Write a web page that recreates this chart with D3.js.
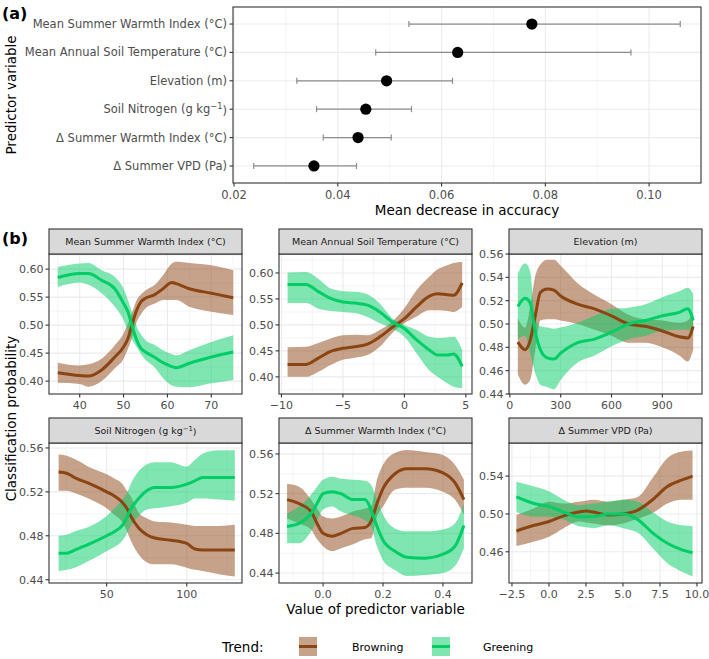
<!DOCTYPE html>
<html>
<head>
<meta charset="utf-8">
<script src="https://cdn.jsdelivr.net/npm/d3@7"></script>
<style>
  html, body { margin: 0; padding: 0; background: #fff; }
  svg { display: block; font-family: "DejaVu Sans", sans-serif; }
</style>
</head>
<body>
<svg id="chart" width="709" height="659"></svg>
<script>
// ---------------- Panel (a) data ----------------
const predictors = [
  "Mean Summer Warmth Index (°C)",
  "Mean Annual Soil Temperature (°C)",
  "Elevation (m)",
  "Soil Nitrogen (g kg^-1)",
  "Δ Summer Warmth Index (°C)",
  "Δ Summer VPD (Pa)"
];
const mda   = [0.0774, 0.0631, 0.0494, 0.0454, 0.0439, 0.0354];
const mdaLo = [0.0537, 0.0473, 0.0321, 0.0359, 0.0372, 0.0238];
const mdaHi = [0.1060, 0.0965, 0.0621, 0.0542, 0.0503, 0.0436];
const mdaTicks = [0.02, 0.04, 0.06, 0.08, 0.10];

// ---------------- Panel (b) data ----------------
const mswiX       = [35, 40, 42, 45, 48, 50, 51, 52, 53, 54, 55, 57, 59, 61, 62, 65, 70, 75];
const mswiBrown   = [0.415,0.410,0.409,0.420,0.443,0.461,0.476,0.503,0.527,0.542,0.548,0.554,0.565,0.576,0.574,0.565,0.557,0.549];
const mswiBrownLo = [0.397,0.395,0.390,0.400,0.423,0.440,0.458,0.479,0.506,0.520,0.530,0.538,0.545,0.545,0.545,0.533,0.524,0.518];
const mswiBrownHi = [0.433,0.428,0.430,0.440,0.464,0.485,0.503,0.524,0.545,0.555,0.562,0.571,0.589,0.610,0.613,0.611,0.607,0.598];
const mswiGreen   = [0.585,0.592,0.592,0.580,0.565,0.539,0.524,0.497,0.473,0.458,0.452,0.443,0.433,0.426,0.424,0.432,0.443,0.452];
const mswiGreenLo = [0.568,0.576,0.572,0.557,0.533,0.509,0.490,0.473,0.461,0.448,0.438,0.425,0.405,0.392,0.390,0.389,0.396,0.402];
const mswiGreenHi = [0.604,0.610,0.611,0.598,0.586,0.565,0.545,0.521,0.497,0.483,0.473,0.465,0.455,0.448,0.446,0.455,0.470,0.482];

const mastX       = [-9.5, -8, -7, -6, -5, -4, -3, -2, -1, 0, 1, 2, 2.7, 3.5, 4, 4.7];
const mastBrown   = [0.424,0.424,0.436,0.449,0.455,0.458,0.463,0.477,0.495,0.512,0.535,0.555,0.560,0.558,0.557,0.581];
const mastBrownLo = [0.400,0.400,0.410,0.423,0.433,0.437,0.442,0.458,0.484,0.503,0.516,0.528,0.528,0.527,0.525,0.535];
const mastBrownHi = [0.457,0.458,0.465,0.474,0.480,0.481,0.480,0.490,0.506,0.532,0.567,0.592,0.607,0.615,0.619,0.621];
const mastGreen   = [0.578,0.578,0.564,0.551,0.544,0.542,0.538,0.525,0.506,0.493,0.471,0.452,0.442,0.442,0.444,0.420];
const mastGreenLo = [0.542,0.542,0.531,0.527,0.525,0.523,0.515,0.503,0.493,0.477,0.445,0.413,0.400,0.387,0.381,0.378];
const mastGreenHi = [0.601,0.602,0.589,0.570,0.565,0.564,0.559,0.541,0.513,0.500,0.490,0.477,0.475,0.476,0.477,0.452];

const elevX       = [47, 90, 120, 150, 180, 220, 260, 300, 400, 500, 600, 700, 800, 900, 1000, 1050, 1082];
const elevBrown   = [0.4845,0.478,0.486,0.507,0.527,0.530,0.529,0.524,0.517,0.513,0.507,0.500,0.498,0.494,0.489,0.488,0.498];
const elevBrownLo = [0.457,0.448,0.452,0.478,0.503,0.504,0.504,0.503,0.500,0.495,0.490,0.484,0.484,0.480,0.473,0.468,0.478];
const elevBrownHi = [0.505,0.497,0.515,0.541,0.551,0.555,0.555,0.550,0.535,0.525,0.517,0.508,0.504,0.503,0.501,0.503,0.510];
const elevGreen   = [0.515,0.522,0.518,0.493,0.478,0.471,0.470,0.475,0.484,0.487,0.493,0.500,0.503,0.507,0.510,0.513,0.503];
const elevGreenLo = [0.487,0.490,0.475,0.458,0.448,0.446,0.444,0.452,0.467,0.473,0.481,0.487,0.490,0.494,0.495,0.495,0.490];
const elevGreenHi = [0.543,0.552,0.545,0.504,0.498,0.497,0.496,0.497,0.501,0.507,0.513,0.514,0.517,0.523,0.528,0.531,0.526];

const snX         = [20, 25, 30, 40, 50, 55, 60, 63, 65, 70, 75, 80, 90, 100, 105, 110, 120, 130];
const snBrown     = [0.538,0.537,0.533,0.527,0.520,0.516,0.510,0.504,0.498,0.487,0.481,0.478,0.476,0.473,0.468,0.467,0.467,0.467];
const snBrownLo   = [0.521,0.521,0.519,0.513,0.505,0.499,0.492,0.483,0.476,0.463,0.456,0.454,0.454,0.451,0.449,0.448,0.445,0.443];
const snBrownHi   = [0.554,0.553,0.550,0.542,0.536,0.532,0.527,0.520,0.516,0.501,0.496,0.493,0.492,0.490,0.489,0.489,0.489,0.490];
const snGreen     = [0.464,0.464,0.467,0.473,0.480,0.484,0.490,0.498,0.504,0.514,0.521,0.524,0.524,0.527,0.530,0.533,0.533,0.533];
const snGreenLo   = [0.448,0.449,0.451,0.458,0.466,0.470,0.476,0.483,0.489,0.498,0.504,0.505,0.507,0.510,0.514,0.514,0.513,0.512];
const snGreenHi   = [0.480,0.481,0.484,0.489,0.498,0.505,0.513,0.520,0.527,0.539,0.545,0.547,0.547,0.543,0.549,0.555,0.558,0.558];

const dswiX       = [-0.12, -0.08, -0.04, -0.02, 0, 0.03, 0.06, 0.1, 0.14, 0.16, 0.18, 0.2, 0.24, 0.28, 0.34, 0.4, 0.44, 0.47];
const dswiBrown   = [0.514,0.510,0.502,0.490,0.480,0.477,0.480,0.485,0.486,0.492,0.510,0.525,0.540,0.545,0.545,0.541,0.531,0.514];
const dswiBrownLo = [0.495,0.490,0.484,0.474,0.467,0.462,0.465,0.469,0.474,0.475,0.497,0.507,0.524,0.526,0.526,0.522,0.514,0.499];
const dswiBrownHi = [0.530,0.527,0.514,0.505,0.497,0.495,0.497,0.502,0.505,0.507,0.534,0.549,0.561,0.564,0.562,0.559,0.549,0.534];
const dswiGreen   = [0.487,0.490,0.500,0.510,0.520,0.522,0.520,0.514,0.514,0.504,0.487,0.473,0.462,0.456,0.455,0.459,0.467,0.488];
const dswiGreenLo = [0.470,0.470,0.482,0.493,0.504,0.507,0.502,0.498,0.493,0.487,0.467,0.453,0.443,0.437,0.438,0.440,0.447,0.465];
const dswiGreenHi = [0.500,0.507,0.519,0.527,0.534,0.537,0.535,0.534,0.533,0.529,0.514,0.499,0.485,0.482,0.482,0.484,0.490,0.510];

const vpdX        = [-2.2, -1, 0, 1, 2, 2.5, 3, 4, 5, 6, 7, 8, 9, 9.7];
const vpdBrown    = [0.482,0.488,0.492,0.498,0.502,0.503,0.502,0.499,0.500,0.504,0.515,0.529,0.536,0.540];
const vpdBrownLo  = [0.466,0.471,0.476,0.485,0.492,0.491,0.490,0.488,0.490,0.495,0.501,0.511,0.515,0.515];
const vpdBrownHi  = [0.499,0.506,0.513,0.511,0.513,0.514,0.515,0.513,0.515,0.518,0.538,0.559,0.566,0.567];
const vpdGreen    = [0.518,0.511,0.508,0.502,0.497,0.497,0.497,0.500,0.500,0.494,0.480,0.469,0.462,0.459];
const vpdGreenLo  = [0.502,0.497,0.497,0.494,0.487,0.486,0.485,0.488,0.485,0.480,0.464,0.448,0.439,0.434];
const vpdGreenHi  = [0.534,0.529,0.524,0.515,0.509,0.510,0.511,0.513,0.515,0.513,0.502,0.492,0.488,0.487];

const trends = ["Browning", "Greening"];
const trendColors = ["#8B4513", "#00CD66"];

// ---------------- Layout / styles ----------------
const svg = d3.select("#chart");
const BORDER = "#333333", GRID = "#ebebeb", TICKTXT = "#4d4d4d";

function minorOf(ticks, domain) {
  const step = ticks[1] - ticks[0];
  const m = ticks.map(t => t - step / 2).concat([ticks[ticks.length - 1] + step / 2]);
  const lo = Math.min(domain[0], domain[1]), hi = Math.max(domain[0], domain[1]);
  return m.filter(v => v >= lo - 1e-9 && v <= hi + 1e-9);
}

function labelText(sel, str) {
  // handles "^-1" superscript
  const m = str.match(/^(.*)\^(-?\d+)(.*)$/);
  if (!m) { sel.text(str); return; }
  sel.append("tspan").text(m[1]);
  sel.append("tspan").attr("dy", "-0.45em").attr("font-size", "0.72em").text(m[2].replace("-", "−"));
  sel.append("tspan").attr("dy", "0.45em").text(m[3]);
}

// ================= Panel (a) =================
const aL = 233, aR = 701, aT = 7, aB = 183;
const ax = d3.scaleLinear().domain([0.0198, 0.11]).range([aL, aR]);
const ay = d3.scalePoint().domain(predictors).range([aT, aB]).padding(0.6);
const gA = svg.append("g");
gA.append("rect").attr("x", aL).attr("y", aT).attr("width", aR - aL).attr("height", aB - aT).attr("fill", "#fff");
minorOf(mdaTicks, ax.domain()).forEach(v => {
  gA.append("line").attr("x1", ax(v)).attr("x2", ax(v)).attr("y1", aT).attr("y2", aB)
    .attr("stroke", GRID).attr("stroke-width", 0.55);
});
mdaTicks.forEach(v => {
  gA.append("line").attr("x1", ax(v)).attr("x2", ax(v)).attr("y1", aT).attr("y2", aB)
    .attr("stroke", GRID).attr("stroke-width", 1.1);
});
predictors.forEach(p => {
  gA.append("line").attr("x1", aL).attr("x2", aR).attr("y1", ay(p)).attr("y2", ay(p))
    .attr("stroke", GRID).attr("stroke-width", 1.1);
});
predictors.forEach((p, i) => {
  const y = ay(p);
  gA.append("line").attr("x1", ax(mdaLo[i])).attr("x2", ax(mdaHi[i])).attr("y1", y).attr("y2", y)
    .attr("stroke", "#8c8c8c").attr("stroke-width", 1.2);
  [mdaLo[i], mdaHi[i]].forEach(v => {
    gA.append("line").attr("x1", ax(v)).attr("x2", ax(v)).attr("y1", y - 3).attr("y2", y + 3)
      .attr("stroke", "#8c8c8c").attr("stroke-width", 1.2);
  });
  gA.append("circle").attr("cx", ax(mda[i])).attr("cy", y).attr("r", 5.6).attr("fill", "#000");
});
gA.append("rect").attr("x", aL).attr("y", aT).attr("width", aR - aL).attr("height", aB - aT)
  .attr("fill", "none").attr("stroke", BORDER).attr("stroke-width", 1.1);
// y axis
predictors.forEach(p => {
  gA.append("line").attr("x1", aL - 3.5).attr("x2", aL).attr("y1", ay(p)).attr("y2", ay(p))
    .attr("stroke", BORDER).attr("stroke-width", 1.1);
  const t = gA.append("text").attr("x", aL - 6).attr("y", ay(p) + 4).attr("text-anchor", "end")
    .attr("font-size", 11.5).attr("fill", TICKTXT);
  labelText(t, p);
});
mdaTicks.forEach(v => {
  gA.append("line").attr("x1", ax(v)).attr("x2", ax(v)).attr("y1", aB).attr("y2", aB + 3.5)
    .attr("stroke", BORDER).attr("stroke-width", 1.1);
  gA.append("text").attr("x", ax(v)).attr("y", aB + 15.5).attr("text-anchor", "middle")
    .attr("font-size", 11.5).attr("fill", TICKTXT).text(d3.format(".2f")(v));
});
gA.append("text").attr("x", (aL + aR) / 2).attr("y", aB + 32).attr("text-anchor", "middle")
  .attr("font-size", 13.5).attr("fill", "#000").text("Mean decrease in accuracy");
gA.append("text").attr("transform", `translate(16,${(aT + aB) / 2}) rotate(-90)`).attr("text-anchor", "middle")
  .attr("font-size", 13.5).attr("fill", "#000").text("Predictor variable");
svg.append("text").attr("x", 2).attr("y", 19).attr("font-size", 16).attr("font-weight", "bold").text("(a)");
svg.append("text").attr("x", 2).attr("y", 244).attr("font-size", 16).attr("font-weight", "bold").text("(b)");

// ================= Panels (b) =================
const panels = [
  { title: "Mean Summer Warmth Index (°C)", x: mswiX, b: [mswiBrown, mswiBrownLo, mswiBrownHi], g: [mswiGreen, mswiGreenLo, mswiGreenHi],
    xd: [33, 77], yd: [0.377, 0.627], xt: [40, 50, 60, 70], yt: [0.40, 0.45, 0.50, 0.55, 0.60], xf: "d", yf: ".2f" },
  { title: "Mean Annual Soil Temperature (°C)", x: mastX, b: [mastBrown, mastBrownLo, mastBrownHi], g: [mastGreen, mastGreenLo, mastGreenHi],
    xd: [-10.2, 5.5], yd: [0.367, 0.6365], xt: [-10, -5, 0, 5], yt: [0.40, 0.45, 0.50, 0.55, 0.60], xf: "d", yf: ".2f" },
  { title: "Elevation (m)", x: elevX, b: [elevBrown, elevBrownLo, elevBrownHi], g: [elevGreen, elevGreenLo, elevGreenHi],
    xd: [-5, 1134], yd: [0.44, 0.56], xt: [0, 300, 600, 900], yt: [0.44, 0.46, 0.48, 0.50, 0.52, 0.54, 0.56], xf: "d", yf: ".2f" },
  { title: "Soil Nitrogen (g kg^-1)", x: snX, b: [snBrown, snBrownLo, snBrownHi], g: [snGreen, snGreenLo, snGreenHi],
    xd: [14, 134.5], yd: [0.437, 0.5645], xt: [50, 100], yt: [0.44, 0.48, 0.52, 0.56], xf: "d", yf: ".2f" },
  { title: "Δ Summer Warmth Index (°C)", x: dswiX, b: [dswiBrown, dswiBrownLo, dswiBrownHi], g: [dswiGreen, dswiGreenLo, dswiGreenHi],
    xd: [-0.147, 0.497], yd: [0.430, 0.571], xt: [0.0, 0.2, 0.4], yt: [0.44, 0.48, 0.52, 0.56], xf: ".1f", yf: ".2f" },
  { title: "Δ Summer VPD (Pa)", x: vpdX, b: [vpdBrown, vpdBrownLo, vpdBrownHi], g: [vpdGreen, vpdGreenLo, vpdGreenHi],
    xd: [-2.7, 10.34], yd: [0.427, 0.575], xt: [-2.5, 0.0, 2.5, 5.0, 7.5, 10.0], yt: [0.46, 0.50, 0.54], xf: ".1f", yf: ".2f" }
];
const colLeft = [49, 279, 509], pW = 193;
const rowTop = [254, 443], pH = 140, stripH = 25;

panels.forEach((p, i) => {
  const L = colLeft[i % 3], T = rowTop[Math.floor(i / 3)];
  const xs = d3.scaleLinear().domain(p.xd).range([L, L + pW]);
  const ys = d3.scaleLinear().domain(p.yd).range([T + pH, T]);
  const g = svg.append("g");
  const cid = "clip" + i;
  g.append("clipPath").attr("id", cid).append("rect").attr("x", L).attr("y", T).attr("width", pW).attr("height", pH);
  g.append("rect").attr("x", L).attr("y", T).attr("width", pW).attr("height", pH).attr("fill", "#fff");
  minorOf(p.xt, p.xd).forEach(v => g.append("line").attr("x1", xs(v)).attr("x2", xs(v)).attr("y1", T).attr("y2", T + pH)
    .attr("stroke", GRID).attr("stroke-width", 0.55));
  minorOf(p.yt, p.yd).forEach(v => g.append("line").attr("x1", L).attr("x2", L + pW).attr("y1", ys(v)).attr("y2", ys(v))
    .attr("stroke", GRID).attr("stroke-width", 0.55));
  p.xt.forEach(v => g.append("line").attr("x1", xs(v)).attr("x2", xs(v)).attr("y1", T).attr("y2", T + pH)
    .attr("stroke", GRID).attr("stroke-width", 1.1));
  p.yt.forEach(v => g.append("line").attr("x1", L).attr("x2", L + pW).attr("y1", ys(v)).attr("y2", ys(v))
    .attr("stroke", GRID).attr("stroke-width", 1.1));

  const plot = g.append("g").attr("clip-path", `url(#${cid})`);
  const series = [p.b, p.g];
  const area = d3.area().curve(d3.curveMonotoneX);
  const line = d3.line().curve(d3.curveMonotoneX);
  series.forEach((s, k) => {
    const pts = p.x.map((xv, j) => [xs(xv), ys(s[1][j]), ys(s[2][j])]);
    plot.append("path").attr("d", area.x(d => d[0]).y0(d => d[1]).y1(d => d[2])(pts))
      .attr("fill", trendColors[k]).attr("fill-opacity", 0.5);
  });
  series.forEach((s, k) => {
    const pts = p.x.map((xv, j) => [xs(xv), ys(s[0][j])]);
    plot.append("path").attr("d", line(pts)).attr("fill", "none")
      .attr("stroke", trendColors[k]).attr("stroke-width", 3).attr("stroke-linejoin", "round");
  });

  g.append("rect").attr("x", L).attr("y", T).attr("width", pW).attr("height", pH)
    .attr("fill", "none").attr("stroke", BORDER).attr("stroke-width", 1.1);
  // strip
  g.append("rect").attr("x", L).attr("y", T - stripH).attr("width", pW).attr("height", stripH)
    .attr("fill", "#d9d9d9").attr("stroke", BORDER).attr("stroke-width", 1.1);
  const st = g.append("text").attr("x", L + pW / 2).attr("y", T - stripH / 2 + 3.5).attr("text-anchor", "middle")
    .attr("font-size", 9.5).attr("fill", "#1a1a1a");
  labelText(st, p.title);
  // axes
  const xfmt = d3.format(p.xf), yfmt = d3.format(p.yf);
  p.xt.forEach(v => {
    g.append("line").attr("x1", xs(v)).attr("x2", xs(v)).attr("y1", T + pH).attr("y2", T + pH + 3.5)
      .attr("stroke", BORDER).attr("stroke-width", 1.1);
    g.append("text").attr("x", xs(v)).attr("y", T + pH + 15).attr("text-anchor", "middle")
      .attr("font-size", 11).attr("fill", TICKTXT).text(xfmt(v));
  });
  p.yt.forEach(v => {
    g.append("line").attr("x1", L - 3.5).attr("x2", L).attr("y1", ys(v)).attr("y2", ys(v))
      .attr("stroke", BORDER).attr("stroke-width", 1.1);
    g.append("text").attr("x", L - 5.5).attr("y", ys(v) + 4).attr("text-anchor", "end")
      .attr("font-size", 11).attr("fill", TICKTXT).text(yfmt(v));
  });
});

// axis titles (b)
svg.append("text").attr("x", (colLeft[0] + colLeft[2] + pW) / 2).attr("y", 614).attr("text-anchor", "middle")
  .attr("font-size", 13.5).attr("fill", "#000").text("Value of predictor variable");
svg.append("text").attr("transform", `translate(16,${(rowTop[0] + rowTop[1] + pH) / 2}) rotate(-90)`)
  .attr("text-anchor", "middle").attr("font-size", 13.5).attr("fill", "#000").text("Classification probability");

// legend
const lg = svg.append("g");
lg.append("text").attr("x", 222).attr("y", 652).attr("font-size", 13.5).attr("fill", "#000").text("Trend:");
const keyX = [299, 432], labX = [352, 483];
trends.forEach((t, k) => {
  lg.append("rect").attr("x", keyX[k]).attr("y", 637).attr("width", 18).attr("height", 19)
    .attr("fill", trendColors[k]).attr("fill-opacity", 0.5);
  lg.append("line").attr("x1", keyX[k]).attr("x2", keyX[k] + 18).attr("y1", 646.5).attr("y2", 646.5)
    .attr("stroke", trendColors[k]).attr("stroke-width", 3);
  lg.append("text").attr("x", labX[k]).attr("y", 651).attr("font-size", 11).attr("fill", "#000").text(t);
});
</script>
</body>
</html>
